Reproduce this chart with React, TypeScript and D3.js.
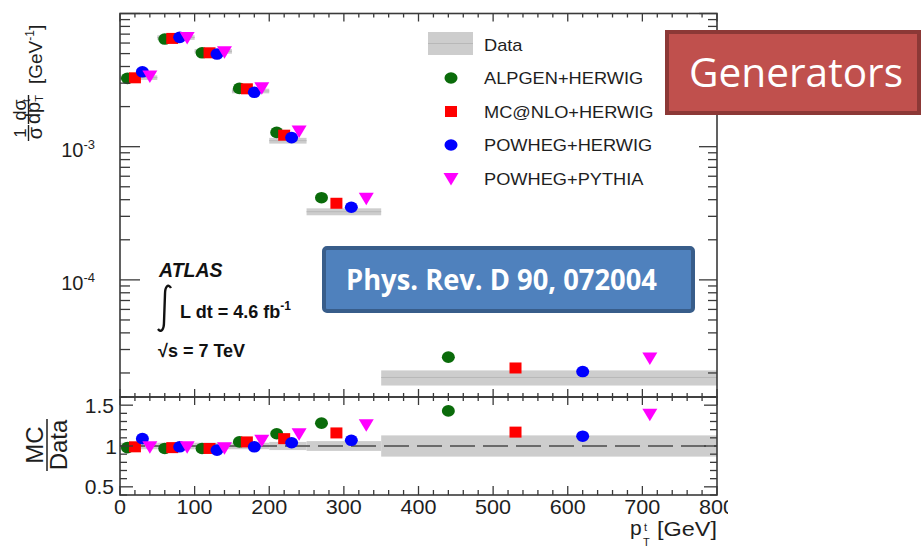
import React from 'react'
import * as d3 from 'd3'

// bins of top-quark pT [GeV]
const binLow = [0, 50, 100, 150, 200, 250, 350]
const binHigh = [50, 100, 150, 200, 250, 350, 800]

// normalised data and its relative uncertainty
const dataVals = [3.3e-3, 6.6e-3, 5.2e-3, 2.62e-3, 1.11e-3, 3.25e-4, 1.85e-5]
const dataRelErr = [0.04, 0.04, 0.04, 0.04, 0.05, 0.06, 0.13]

// generator predictions
const alpgen = [3.26e-3, 6.43e-3, 5.07e-3, 2.74e-3, 1.28e-3, 4.14e-4, 2.63e-5]
const mcatnlo = [3.29e-3, 6.5e-3, 5.07e-3, 2.72e-3, 1.22e-3, 3.76e-4, 2.18e-5]
const powhegHerwig = [3.65e-3, 6.62e-3, 4.96e-3, 2.56e-3, 1.17e-3, 3.51e-4, 2.05e-5]
const powhegPythia = [3.39e-3, 6.6e-3, 5.16e-3, 2.77e-3, 1.31e-3, 4.1e-4, 2.59e-5]

// MC / Data
const alpgenRatio = [0.98, 0.97, 0.97, 1.05, 1.15, 1.28, 1.43]
const mcatnloRatio = [0.99, 0.98, 0.97, 1.05, 1.09, 1.16, 1.17]
const powhegHerwigRatio = [1.09, 0.99, 0.95, 0.99, 1.04, 1.07, 1.12]
const powhegPythiaRatio = [0.99, 0.99, 0.98, 1.07, 1.15, 1.26, 1.39]

const genNames = ['ALPGEN+HERWIG', 'MC@NLO+HERWIG', 'POWHEG+HERWIG', 'POWHEG+PYTHIA']
const genColors = ['#0a6b0a', '#ff0000', '#0000ff', '#ff00ff']
const genShapes = ['circle', 'square', 'circle', 'triangle']
const genValues = [alpgen, mcatnlo, powhegHerwig, powhegPythia]
const genRatios = [alpgenRatio, mcatnloRatio, powhegHerwigRatio, powhegPythiaRatio]
const genOffset = [0.2, 0.4, 0.6, 0.8] // position inside the bin

const xTicks = [0, 100, 200, 300, 400, 500, 600, 700, 800]
const ratioTicks = [0.5, 1, 1.5]

const W = 924
const H = 549
const L = 120
const R = 717
const TOP = 13.5
const MID = 397
const BOT = 495

const x = d3.scaleLinear().domain([0, 800]).range([L, R])
const y = d3.scaleLog().domain([1.32e-5, 1e-2]).range([MID, TOP])
const yr = d3.scaleLinear().domain([0.4, 1.6]).range([BOT, MID])

const FONT = '"Liberation Sans", Arial, Helvetica, sans-serif'
const INK = '#1e1e1e'
const FRAME = '#3a3a3a'

function Marker({ shape, color, cx, cy }: { shape: string; color: string; cx: number; cy: number }) {
  if (shape === 'square') return <rect x={cx - 6} y={cy - 5.5} width={12} height={11} fill={color} />
  if (shape === 'triangle') {
    return <path d={`M${cx - 7.5},${cy - 5.5} L${cx + 7.5},${cy - 5.5} L${cx},${cy + 7} Z`} fill={color} />
  }
  return <ellipse cx={cx} cy={cy} rx={6.5} ry={5.8} fill={color} />
}

export default function App() {
  const minorX = d3.range(0, 801, 20)
  const logTicks: number[] = []
  for (let e = -5; e <= -2; e++) {
    for (let m = 1; m <= 9; m++) {
      const v = m * Math.pow(10, e)
      if (v >= 1.32e-5 && v <= 1.0001e-2) logTicks.push(v)
    }
  }
  const ratioMinor = d3.range(4, 17).map(d => d / 10)

  return (
    <svg width={W} height={H} style={{ position: 'absolute', left: 0, top: 0, background: '#fff' }}
      fontFamily={FONT}>
      <defs>
        <clipPath id="lblclip"><rect x={0} y={0} width={728} height={H} /></clipPath>
      </defs>

      {/* top panel data bands */}
      {dataVals.map((v, i) => (
        <g key={'db' + i}>
          <rect x={x(binLow[i])} width={x(binHigh[i]) - x(binLow[i])}
            y={y(v * (1 + dataRelErr[i]))} height={y(v * (1 - dataRelErr[i])) - y(v * (1 + dataRelErr[i]))}
            fill="#cdcdcd" />
          <line x1={x(binLow[i])} x2={x(binHigh[i])} y1={y(v)} y2={y(v)} stroke="#b8b8b8" strokeWidth={1} />
        </g>
      ))}

      {/* ratio bands */}
      {dataRelErr.map((e, i) => (
        <rect key={'rb' + i} x={x(binLow[i])} width={x(binHigh[i]) - x(binLow[i])}
          y={yr(1 + e)} height={yr(1 - e) - yr(1 + e)} fill="#cdcdcd" />
      ))}
      <line x1={L} x2={R} y1={yr(1)} y2={yr(1)} stroke="#6a6a6a" strokeWidth={2} strokeDasharray="25,8" />

      {/* markers */}
      {genValues.map((vals, g) => vals.map((v, i) => (
        <Marker key={`m${g}-${i}`} shape={genShapes[g]} color={genColors[g]}
          cx={x(binLow[i] + genOffset[g] * (binHigh[i] - binLow[i]))} cy={y(v)} />
      )))}
      {genRatios.map((vals, g) => vals.map((v, i) => (
        <Marker key={`r${g}-${i}`} shape={genShapes[g]} color={genColors[g]}
          cx={x(binLow[i] + genOffset[g] * (binHigh[i] - binLow[i]))} cy={yr(v)} />
      )))}

      {/* frames */}
      <rect x={L} y={TOP} width={R - L} height={MID - TOP} fill="none" stroke={FRAME} strokeWidth={1.6} />
      <rect x={L} y={MID} width={R - L} height={BOT - MID} fill="none" stroke={FRAME} strokeWidth={1.6} />

      {/* x ticks on all horizontal frame lines */}
      {minorX.map(t => {
        const major = t % 100 === 0
        const px = x(t)
        return (
          <g key={'xt' + t} stroke={FRAME} strokeWidth={1.3}>
            <line x1={px} x2={px} y1={TOP} y2={TOP + (major ? 8 : 4)} />
            <line x1={px} x2={px} y1={MID} y2={MID - (major ? 8 : 4)} />
            <line x1={px} x2={px} y1={MID} y2={MID + (major ? 8 : 4)} />
            <line x1={px} x2={px} y1={BOT} y2={BOT - (major ? 9 : 5)} />
          </g>
        )
      })}

      {/* log y ticks */}
      {logTicks.map(t => {
        const major = Math.abs(Math.log10(t) - Math.round(Math.log10(t))) < 1e-6
        const py = y(t)
        return (
          <g key={'yt' + t} stroke={FRAME} strokeWidth={1.3}>
            <line x1={L} x2={L + (major ? 20 : 10)} y1={py} y2={py} />
            <line x1={R} x2={R - (major ? 18 : 9)} y1={py} y2={py} />
          </g>
        )
      })}

      {/* ratio y ticks */}
      {ratioMinor.map(t => {
        const major = ratioTicks.some(m => Math.abs(m - t) < 1e-6)
        const py = yr(t)
        return (
          <g key={'rt' + t} stroke={FRAME} strokeWidth={1.3}>
            <line x1={L} x2={L + (major ? 13 : 7)} y1={py} y2={py} />
            <line x1={R} x2={R - (major ? 13 : 7)} y1={py} y2={py} />
          </g>
        )
      })}

      {/* x tick labels */}
      <g clipPath="url(#lblclip)" fontSize={20} fill={INK} textAnchor="middle">
        {xTicks.map(t => (
          <text key={'xl' + t} x={x(t)} y={514} transform={`translate(${x(t)},0) scale(1.08,1) translate(${-x(t)},0)`}>{t}</text>
        ))}
      </g>

      {/* log y labels */}
      {[1e-3, 1e-4].map(t => (
        <text key={'yl' + t} x={95} y={y(t) + 10} fontSize={20} fill={INK} textAnchor="end">
          10<tspan dy={-8} fontSize={13}>{Math.round(Math.log10(t))}</tspan>
        </text>
      ))}

      {/* ratio y labels */}
      {ratioTicks.map(t => (
        <text key={'ryl' + t} x={t === 1 ? 117 : 114} y={yr(t) + 7.5} fontSize={21} fill={INK} textAnchor="end">
          {t === 1 ? '1' : t.toFixed(1)}
        </text>
      ))}

      {/* y title top */}
      <g transform="translate(43,0) rotate(-90)" fill={INK}>
        <text x={-133} y={-17} fontSize={17} textAnchor="middle">1</text>
        <line x1={-141} x2={-125} y1={-14.5} y2={-14.5} stroke={INK} strokeWidth={1.4} />
        <text x={-133} y={-1} fontSize={20} textAnchor="middle">σ</text>
        <text x={-110} y={-17} fontSize={18} textAnchor="middle">dσ</text>
        <line x1={-124} x2={-95} y1={-14.5} y2={-14.5} stroke={INK} strokeWidth={1.4} />
        <text x={-124} y={-3} fontSize={20}>dp<tspan dy={3} fontSize={11}>T</tspan><tspan dx={-7} dy={-13} fontSize={11}>t</tspan></text>
        <text x={-84} y={-1} fontSize={19}>[GeV<tspan dy={-8} fontSize={12}>-1</tspan><tspan dy={8}>]</tspan></text>
      </g>

      {/* y title ratio */}
      <g transform="translate(47,445) rotate(-90)" fill={INK}>
        <text x={0} y={-4} fontSize={24} textAnchor="middle">MC</text>
        <line x1={-26} x2={26} y1={0} y2={0} stroke={INK} strokeWidth={1.5} />
        <text x={0} y={20} fontSize={24} textAnchor="middle">Data</text>
      </g>

      {/* x title */}
      <g fill={INK}>
        <text x={630} y={535} fontSize={21}>p</text>
        <text x={643} y={546} fontSize={11}>T</text>
        <text x={644} y={531} fontSize={11}>t</text>
        <text x={717} y={536} fontSize={20} textAnchor="end" textLength={60} lengthAdjust="spacingAndGlyphs">[GeV]</text>
      </g>

      {/* legend */}
      <g fontSize={16} fill={INK}>
        <rect x={428} y={32} width={45} height={23} fill="#cdcdcd" />
        <line x1={428} x2={473} y1={43.5} y2={43.5} stroke="#b8b8b8" strokeWidth={1} />
        <text transform="translate(484,51) scale(1.14,1)">Data</text>
        {genNames.map((n, g) => {
          const ly = 78 + g * 33.5
          return (
            <g key={'lg' + g}>
              <Marker shape={genShapes[g]} color={genColors[g]} cx={451} cy={ly} />
              <text transform={`translate(484,${ly + 6}) scale(1.14,1)`} fill={INK}>{n}</text>
            </g>
          )
        })}
      </g>

      {/* ATLAS label */}
      <g fill="#111" fontWeight="bold">
        <text x={159} y={277} fontSize={19.5} fontStyle="italic">ATLAS</text>
        <path d="M171,288 C168,283 165,287 165,294 L164,322 C164,330 161,333 158,329"
          fill="none" stroke="#111" strokeWidth={2.4} />
        <text x={180} y={318} fontSize={18}>L dt = 4.6 fb<tspan dy={-8} fontSize={12}>-1</tspan></text>
        <text x={158} y={357} fontSize={18}>√s = 7 TeV</text>
      </g>

      {/* annotation boxes */}
      <rect x={667} y={32} width={252} height={81} fill="#c0504d" stroke="#8c3836" strokeWidth={4} />
      <text x={689} y={87} fontSize={40} fill="#fff" fontFamily='"Open Sans", "Noto Sans", sans-serif'
        textLength={214} lengthAdjust="spacingAndGlyphs">Generators</text>

      <rect x={324} y={248} width={369} height={63} rx={3} fill="#4f81bd" stroke="#385d8a" strokeWidth={4} />
      <text x={346} y={290} fontSize={29} fontWeight="bold" fill="#fff"
        fontFamily='"Open Sans", "Noto Sans", sans-serif'
        textLength={311} lengthAdjust="spacingAndGlyphs">Phys. Rev. D 90, 072004</text>
    </svg>
  )
}
